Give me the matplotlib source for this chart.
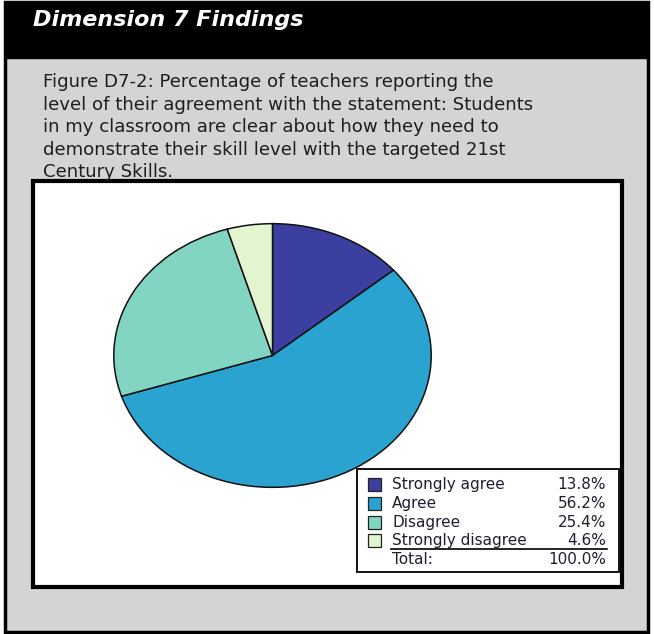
import matplotlib
matplotlib.use("Agg")
import matplotlib.pyplot as plt
from matplotlib.patches import Rectangle

plt.rcParams["font.family"] = ["DejaVu Sans"]

# Survey responses
categories = ["Strongly agree", "Agree", "Disagree", "Strongly disagree"]
percentages = [13.8, 56.2, 25.4, 4.6]
colors = ["#3b3f9f", "#2ba3d0", "#82d5c3", "#e3f4d0"]

header = "Dimension 7 Findings"
caption_lines = [
    "Figure D7-2: Percentage of teachers reporting the",
    "level of their agreement with the statement: Students",
    "in my classroom are clear about how they need to",
    "demonstrate their skill level with the targeted 21st",
    "Century Skills.",
]

W, H = 654, 634
fig = plt.figure(figsize=(W / 100, H / 100), dpi=100)
fig.patch.set_facecolor("white")

# Full-figure canvas in pixel units for the panel frame, captions and legend
bg = fig.add_axes([0, 0, 1, 1])
bg.set_xlim(0, W)
bg.set_ylim(H, 0)
bg.axis("off")

# Outer gray panel with black border
bg.add_patch(Rectangle((5, 2), 643, 630, facecolor="#d4d4d4",
                       edgecolor="black", linewidth=2.5))
# Black header band
bg.add_patch(Rectangle((5, 2), 643, 56, facecolor="black", edgecolor="black"))
bg.text(33, 26, header, color="white", fontsize=16, fontweight="bold",
        fontstyle="oblique", va="baseline", ha="left")

# Caption, one line per baseline
for i, line in enumerate(caption_lines):
    bg.text(43, 87 + 22.6 * i, line, color="#1e1e1e", fontsize=13.1,
            va="baseline", ha="left")

# White chart box
bg.add_patch(Rectangle((33, 181), 589, 406, facecolor="white",
                       edgecolor="black", linewidth=3))

# Pie (elliptical, as drawn in the source report)
pie_l, pie_r, pie_t, pie_b = 113, 432, 223, 488
pax = fig.add_axes([pie_l / W, 1 - pie_b / H, (pie_r - pie_l) / W,
                    (pie_b - pie_t) / H])
pax.pie(percentages, colors=colors, startangle=90, counterclock=False,
        wedgeprops=dict(edgecolor="#111111", linewidth=1.1))
pax.set_aspect("auto")
pax.set_xlim(-1.005, 1.005)
pax.set_ylim(-1.005, 1.005)
pax.axis("off")

# Legend table
fs = 11
bg.add_patch(Rectangle((357, 469), 262, 103, facecolor="white",
                       edgecolor="black", linewidth=1.3, zorder=3))
row_y = [489, 508, 527, 545]
for y, lab, val, col in zip(row_y, categories, percentages, colors):
    bg.add_patch(Rectangle((368, y - 11), 13, 13, facecolor=col,
                           edgecolor="#222222", linewidth=0.9, zorder=4))
    bg.text(392, y, lab, fontsize=fs, color="#1e1e2e", va="baseline",
            ha="left", zorder=5)
    bg.text(606, y, f"{val:.1f}%", fontsize=fs, color="#1e1e2e",
            va="baseline", ha="right", zorder=5)
bg.plot([391, 607], [549, 549], color="black", linewidth=1.2, zorder=5)
bg.text(392, 564, "Total:", fontsize=fs, color="#1e1e2e", va="baseline",
        ha="left", zorder=5)
bg.text(606, 564, f"{sum(percentages):.1f}%", fontsize=fs,
        color="#1e1e2e", va="baseline", ha="right", zorder=5)

fig.savefig("out.png", dpi=100)
